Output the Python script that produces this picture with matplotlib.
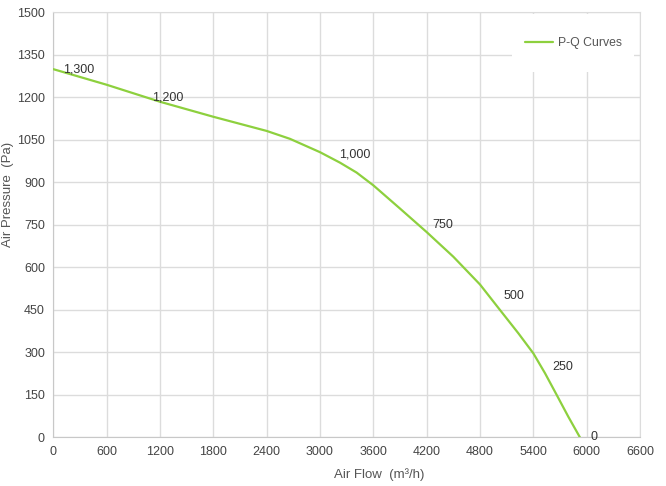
import matplotlib.pyplot as plt
from matplotlib.patches import Rectangle

# curve (m3/h, Pa)
flow = [0, 600, 1200, 1800, 2400, 2663, 3000, 3225, 3412, 3600, 3900,
        4200, 4500, 4800, 5025, 5231, 5400, 5531, 5663, 5794, 5925]
pressure = [1300, 1245, 1185, 1132, 1082, 1054, 1007, 970, 935, 890, 808,
            725, 638, 540, 450, 368, 297, 227, 150, 73, 0]

# labelled points
label_flow = [0, 1000, 3100, 4150, 4950, 5500, 5925]
label_pressure = [1300, 1200, 1000, 750, 500, 250, 0]

x_ticks = list(range(0, 6601, 600))
y_ticks = list(range(0, 1501, 150))

green = '#8dd03e'
grid_c = '#dcdcdc'

plt.rcParams['font.family'] = ['Liberation Sans', 'DejaVu Sans']

fig = plt.figure(figsize=(6.66, 4.86), dpi=100)
ax = fig.add_axes([0.080, 0.0998, 0.881, 0.8745])

ax.plot(flow, pressure, color=green, lw=1.6, zorder=3, label='P-Q Curves',
        solid_joinstyle='round', solid_capstyle='round')

for q, p in zip(label_flow, label_pressure):
    ax.annotate(f'{p:,}', (q, p), xytext=(10, 0), textcoords='offset pixels',
                va='center', ha='left', fontsize=9, color='#333333', zorder=4)

ax.set_xlim(0, 6600)
ax.set_ylim(0, 1500)
ax.set_xticks(x_ticks)
ax.set_yticks(y_ticks)
ax.tick_params(length=0, labelsize=9, colors='#444444', pad=6)
ax.grid(True, color=grid_c, lw=1)
ax.set_axisbelow(True)
for s in ax.spines.values():
    s.set_color(grid_c)
ax.spines['left'].set_color('#c8c8c8')
ax.spines['bottom'].set_color('#c8c8c8')

ax.set_xlabel('Air Flow  (m³/h)', fontsize=9.5, color='#555555')
ax.set_ylabel('Air Pressure  (Pa)', fontsize=9.5, color='#555555')
ax.xaxis.set_label_coords(0.555, -0.072)
ax.yaxis.set_label_coords(-0.067, 0.571)

# white box behind the legend hides the grid
ax.add_patch(Rectangle((0.782, 0.860), 0.208, 0.136, transform=ax.transAxes,
                       facecolor='white', edgecolor='none', zorder=2))
ax.legend(loc='center', bbox_to_anchor=(0.886, 0.928), frameon=False,
          fontsize=8.8, handlelength=2.3, handletextpad=0.4,
          labelcolor='#555555')

fig.savefig('out.png', dpi=100)
